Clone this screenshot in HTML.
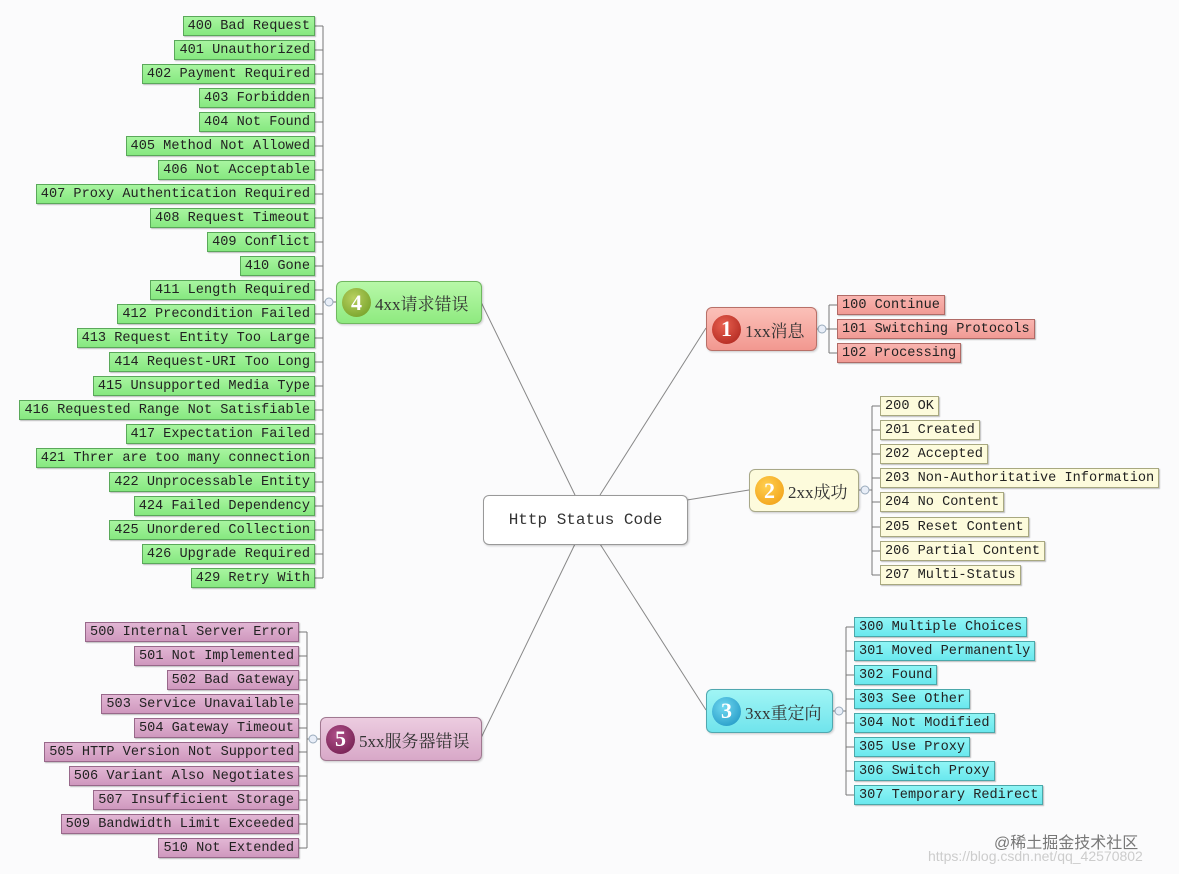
<!DOCTYPE html>
<html><head><meta charset="utf-8"><style>
body{margin:0;width:1179px;height:874px;background:#fbfbfc;position:relative;overflow:hidden;font-family:"Liberation Mono","Noto Sans CJK SC",monospace}
.l{position:absolute;height:18px;line-height:20px;font-size:13.6px;padding:0 4px;color:#222;white-space:nowrap;box-shadow:1px 1px 1px rgba(0,0,0,.25)}
.g{background:linear-gradient(#a8f5a0,#86e880);border:1px solid #5aa85a}
.r{background:linear-gradient(#f9b5b0,#f09a94);border:1px solid #b06a66}
.y{background:#fdfbdc;border:1px solid #a8a880}
.c{background:linear-gradient(#8ff5f5,#6ae8ee);border:1px solid #4aa8aa}
.p{background:linear-gradient(#e2b6d4,#cf98be);border:1px solid #98688a}
.n{position:absolute;border-radius:6px;font-family:"Liberation Serif","Noto Serif CJK SC",serif;font-size:17px;color:#333;display:flex;align-items:center;box-shadow:1px 1px 2px rgba(0,0,0,.2)}
.i{width:29px;height:29px;border-radius:50%;color:#fff;font-weight:bold;font-size:22px;display:flex;align-items:center;justify-content:center;margin:0 4px 0 5px;font-family:"Liberation Serif",serif}
</style></head><body>
<svg width="1179" height="874" style="position:absolute;left:0;top:0" fill="none" stroke="#777" stroke-width="1">
<path d="M481 302L575 495M706 328L600 495M687 500L749 490M600 544L706 710M575 544L481 738" stroke="#888"/>
<path d="M323 26V578M315 26H323M315 50H323M315 74H323M315 98H323M315 122H323M315 146H323M315 170H323M315 194H323M315 218H323M315 242H323M315 266H323M315 290H323M315 314H323M315 338H323M315 362H323M315 386H323M315 410H323M315 434H323M315 458H323M315 482H323M315 506H323M315 530H323M315 554H323M315 578H323M323 302H336"/>
<path d="M307 632V848M299 632H307M299 656H307M299 680H307M299 704H307M299 728H307M299 752H307M299 776H307M299 800H307M299 824H307M299 848H307M307 739H320"/>
<path d="M829 305V353M829 305H837M829 329H837M829 353H837M816 329H829"/>
<path d="M872 406V575M872 406H880M872 430H880M872 454H880M872 478H880M872 502H880M872 527H880M872 551H880M872 575H880M858 490H872"/>
<path d="M846 627V795M846 627H854M846 651H854M846 675H854M846 699H854M846 723H854M846 747H854M846 771H854M846 795H854M832 711H846"/>
<g stroke="#9ab" fill="#e8eef8"><circle cx="329" cy="302" r="4"/><circle cx="313" cy="739" r="4"/><circle cx="822" cy="329" r="4"/><circle cx="865" cy="490" r="4"/><circle cx="839" cy="711" r="4"/></g>
</svg>

<div class="n" style="left:483px;top:495px;width:203px;height:48px;background:#fff;border:1px solid #999;justify-content:center;font-family:'Liberation Mono',monospace;font-size:16px">Http Status Code</div>
<div class="n" style="left:336px;top:281px;width:144px;height:41px;background:linear-gradient(#b8f8a8,#8fea80);border:1px solid #70b860"><div class="i" style="background:radial-gradient(circle at 40% 35%,#b8d060,#6a9a20)">4</div>4xx请求错误</div>
<div class="n" style="left:320px;top:717px;width:160px;height:42px;background:linear-gradient(#eccce0,#d8a8c8);border:1px solid #a07890"><div class="i" style="background:radial-gradient(circle at 40% 35%,#b0508a,#6a1848)">5</div>5xx服务器错误</div>
<div class="n" style="left:706px;top:307px;width:109px;height:42px;background:linear-gradient(#fbc0b8,#f29890);border:1px solid #b87068"><div class="i" style="background:radial-gradient(circle at 40% 35%,#e86050,#a82018)">1</div>1xx消息</div>
<div class="n" style="left:749px;top:469px;width:108px;height:41px;background:#fdfbdc;border:1px solid #a8a888"><div class="i" style="background:radial-gradient(circle at 40% 35%,#ffd050,#f09a10)">2</div>2xx成功</div>
<div class="n" style="left:706px;top:689px;width:125px;height:42px;background:linear-gradient(#a0f5f5,#70e4ec);border:1px solid #50a8b0"><div class="i" style="background:radial-gradient(circle at 40% 35%,#70d8f0,#1890c0)">3</div>3xx重定向</div>

<div class="l g" style="right:864px;top:16px">400 Bad Request</div>
<div class="l g" style="right:864px;top:40px">401 Unauthorized</div>
<div class="l g" style="right:864px;top:64px">402 Payment Required</div>
<div class="l g" style="right:864px;top:88px">403 Forbidden</div>
<div class="l g" style="right:864px;top:112px">404 Not Found</div>
<div class="l g" style="right:864px;top:136px">405 Method Not Allowed</div>
<div class="l g" style="right:864px;top:160px">406 Not Acceptable</div>
<div class="l g" style="right:864px;top:184px">407 Proxy Authentication Required</div>
<div class="l g" style="right:864px;top:208px">408 Request Timeout</div>
<div class="l g" style="right:864px;top:232px">409 Conflict</div>
<div class="l g" style="right:864px;top:256px">410 Gone</div>
<div class="l g" style="right:864px;top:280px">411 Length Required</div>
<div class="l g" style="right:864px;top:304px">412 Precondition Failed</div>
<div class="l g" style="right:864px;top:328px">413 Request Entity Too Large</div>
<div class="l g" style="right:864px;top:352px">414 Request-URI Too Long</div>
<div class="l g" style="right:864px;top:376px">415 Unsupported Media Type</div>
<div class="l g" style="right:864px;top:400px">416 Requested Range Not Satisfiable</div>
<div class="l g" style="right:864px;top:424px">417 Expectation Failed</div>
<div class="l g" style="right:864px;top:448px">421 Threr are too many connection</div>
<div class="l g" style="right:864px;top:472px">422 Unprocessable Entity</div>
<div class="l g" style="right:864px;top:496px">424 Failed Dependency</div>
<div class="l g" style="right:864px;top:520px">425 Unordered Collection</div>
<div class="l g" style="right:864px;top:544px">426 Upgrade Required</div>
<div class="l g" style="right:864px;top:568px">429 Retry With</div>

<div class="l p" style="right:880px;top:622px">500 Internal Server Error</div>
<div class="l p" style="right:880px;top:646px">501 Not Implemented</div>
<div class="l p" style="right:880px;top:670px">502 Bad Gateway</div>
<div class="l p" style="right:880px;top:694px">503 Service Unavailable</div>
<div class="l p" style="right:880px;top:718px">504 Gateway Timeout</div>
<div class="l p" style="right:880px;top:742px">505 HTTP Version Not Supported</div>
<div class="l p" style="right:880px;top:766px">506 Variant Also Negotiates</div>
<div class="l p" style="right:880px;top:790px">507 Insufficient Storage</div>
<div class="l p" style="right:880px;top:814px">509 Bandwidth Limit Exceeded</div>
<div class="l p" style="right:880px;top:838px">510 Not Extended</div>

<div class="l r" style="left:837px;top:295px">100 Continue</div>
<div class="l r" style="left:837px;top:319px">101 Switching Protocols</div>
<div class="l r" style="left:837px;top:343px">102 Processing</div>

<div class="l y" style="left:880px;top:396px">200 OK</div>
<div class="l y" style="left:880px;top:420px">201 Created</div>
<div class="l y" style="left:880px;top:444px">202 Accepted</div>
<div class="l y" style="left:880px;top:468px">203 Non-Authoritative Information</div>
<div class="l y" style="left:880px;top:492px">204 No Content</div>
<div class="l y" style="left:880px;top:517px">205 Reset Content</div>
<div class="l y" style="left:880px;top:541px">206 Partial Content</div>
<div class="l y" style="left:880px;top:565px">207 Multi-Status</div>

<div class="l c" style="left:854px;top:617px">300 Multiple Choices</div>
<div class="l c" style="left:854px;top:641px">301 Moved Permanently</div>
<div class="l c" style="left:854px;top:665px">302 Found</div>
<div class="l c" style="left:854px;top:689px">303 See Other</div>
<div class="l c" style="left:854px;top:713px">304 Not Modified</div>
<div class="l c" style="left:854px;top:737px">305 Use Proxy</div>
<div class="l c" style="left:854px;top:761px">306 Switch Proxy</div>
<div class="l c" style="left:854px;top:785px">307 Temporary Redirect</div>

<div style="position:absolute;left:994px;top:829px;font:16px 'Liberation Sans','Noto Sans CJK SC',sans-serif;color:#777">@稀土掘金技术社区</div>
<div style="position:absolute;left:928px;top:848px;font:14px 'Liberation Sans',sans-serif;color:#ccc">https://blog.csdn.net/qq_42570802</div>
</body></html>
